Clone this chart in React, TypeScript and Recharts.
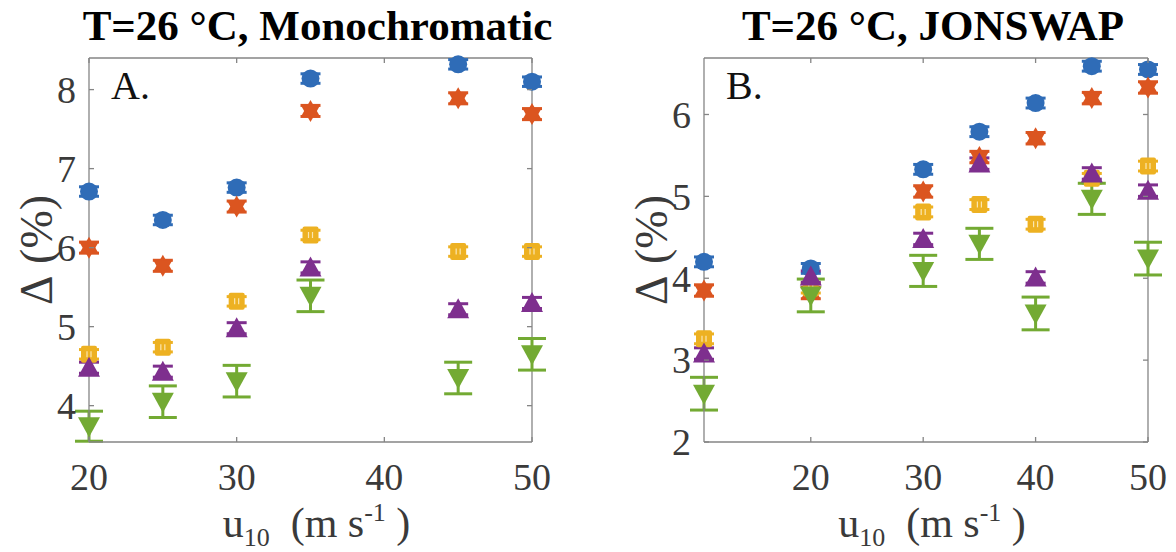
import { ScatterChart, Scatter, XAxis, YAxis, ErrorBar, ReferenceLine } from "recharts";

// panel A: monochromatic
const uA = [20, 25, 30, 35, 45, 50];
const blueA = [6.71, 6.35, 6.76, 8.14, 8.32, 8.1];
const orangeA = [6.0, 5.77, 6.52, 7.73, 7.89, 7.69];
const yellowA = [4.65, 4.74, 5.32, 6.16, 5.95, 5.95];
const purpleA = [4.48, 4.43, 4.98, 5.75, 5.22, 5.3];
const greenA = [3.74, 4.05, 4.31, 5.39, 4.35, 4.65];
const blueErrA = [0.06, 0.06, 0.06, 0.06, 0.06, 0.06];
const orangeErrA = [0.07, 0.07, 0.07, 0.07, 0.07, 0.07];
const yellowErrA = [0.06, 0.06, 0.06, 0.06, 0.06, 0.06];
const purpleErrA = [0.07, 0.07, 0.07, 0.07, 0.07, 0.07];
const greenErrA = [0.19, 0.2, 0.2, 0.2, 0.2, 0.2];

// panel B: JONSWAP
const uB = [10.5, 20, 30, 35, 40, 45, 50];
const blueB = [4.2, 4.12, 5.33, 5.79, 6.14, 6.59, 6.55];
const orangeB = [3.85, 3.82, 5.06, 5.48, 5.71, 6.2, 6.33];
const yellowB = [3.26, 3.88, 4.81, 4.9, 4.66, 5.22, 5.37];
const purpleB = [3.08, 4.02, 4.48, 5.4, 4.01, 5.28, 5.07];
const greenB = [2.59, 3.79, 4.09, 4.42, 3.57, 4.97, 4.24];
const blueErrB = [0.06, 0.06, 0.06, 0.06, 0.06, 0.06, 0.06];
const orangeErrB = [0.07, 0.07, 0.07, 0.07, 0.07, 0.07, 0.07];
const yellowErrB = [0.06, 0.06, 0.06, 0.06, 0.06, 0.06, 0.06];
const purpleErrB = [0.07, 0.07, 0.07, 0.07, 0.07, 0.07, 0.07];
const greenErrB = [0.2, 0.2, 0.19, 0.19, 0.2, 0.19, 0.2];

const xTicks = [20, 30, 40, 50];
const yTicksA = [4, 5, 6, 7, 8];
const yTicksB = [2, 3, 4, 5, 6];

const SERIF = "Liberation Serif";
const AXIS = "#858585";
const TXT = "#3a3a3a";
const COLORS = {
  blue: "#2F6CB7",
  orange: "#DB5520",
  yellow: "#EDB122",
  purple: "#7E2F8E",
  green: "#73AA33",
};

const CH = 552;
const TOP = 58;
const XAXIS_H = 110;
const PLOT_H = CH - TOP - XAXIS_H;

type Pt = { x: number; y: number; err: number };
const pts = (u: number[], ys: number[], errs: number[]): Pt[] => u.map((x, i) => ({ x, y: ys[i], err: errs[i] }));

const Circle = ({ cx, cy }: any) => <circle cx={cx} cy={cy} r={9} fill={COLORS.blue} />;

const Hexagram = ({ cx, cy }: any) => {
  const r = 11;
  const h = r * 0.866;
  const up = `${cx},${cy - r} ${cx + h},${cy + r / 2} ${cx - h},${cy + r / 2}`;
  const dn = `${cx},${cy + r} ${cx + h},${cy - r / 2} ${cx - h},${cy - r / 2}`;
  return (
    <g fill={COLORS.orange}>
      <polygon points={up} />
      <polygon points={dn} />
    </g>
  );
};

const Square = ({ cx, cy }: any) => (
  <g>
    <rect x={cx - 8} y={cy - 8.5} width={16} height={17} rx={2} fill={COLORS.yellow} />
    <line x1={cx - 2} x2={cx - 2} y1={cy - 3} y2={cy + 3} stroke="#fbe6b0" strokeWidth={1.2} />
    <line x1={cx + 2} x2={cx + 2} y1={cy - 3} y2={cy + 3} stroke="#fbe6b0" strokeWidth={1.2} />
  </g>
);

const TriUp = ({ cx, cy }: any) => (
  <polygon points={`${cx},${cy - 11} ${cx + 11},${cy + 9} ${cx - 11},${cy + 9}`} fill={COLORS.purple} />
);

const TriDown = ({ cx, cy }: any) => (
  <polygon points={`${cx - 11},${cy - 9} ${cx + 11},${cy - 9} ${cx},${cy + 11}`} fill={COLORS.green} />
);

interface PanelProps {
  left: number;
  width: number;
  yAxisW: number;
  marginRight: number;
  title: string;
  letter: string;
  xDomain: [number, number];
  yDomain: [number, number];
  yTicks: number[];
  series: { key: string; data: Pt[]; color: string; shape: any; cap: number }[];
}

function Panel({ left, width, yAxisW, marginRight, title, letter, xDomain, yDomain, yTicks, series }: PanelProps) {
  const plotW = width - yAxisW - marginRight;
  const xTick = ({ x, y, payload }: any) => (
    <g>
      <line x1={x} x2={x} y1={y} y2={y - 5} stroke={AXIS} strokeWidth={1.3} />
      <line x1={x} x2={x} y1={y - PLOT_H} y2={y - PLOT_H + 5} stroke={AXIS} strokeWidth={1.3} />
      <text x={x} y={y + 48} textAnchor="middle" fontSize={38} fill={TXT} fontFamily={SERIF}>
        {payload.value}
      </text>
    </g>
  );
  const yTick = ({ x, y, payload }: any) => (
    <g>
      <line x1={x} x2={x + 5} y1={y} y2={y} stroke={AXIS} strokeWidth={1.3} />
      <line x1={x + plotW} x2={x + plotW - 5} y1={y} y2={y} stroke={AXIS} strokeWidth={1.3} />
      <text x={x - 13} y={y} dy="0.35em" textAnchor="end" fontSize={38} fill={TXT} fontFamily={SERIF}>
        {payload.value}
      </text>
    </g>
  );
  const cx = yAxisW + plotW / 2 + 6;
  const xLabel = () => (
    <text x={cx} y={537} textAnchor="middle" fontSize={42} fill={TXT} fontFamily={SERIF}>
      u
      <tspan fontSize={26} dy={9}>10</tspan>
      <tspan dy={-9}>{"\u00a0\u00a0(m s"}</tspan>
      <tspan fontSize={26} dy={-16}>-1</tspan>
      <tspan dy={16}>{"\u00a0)"}</tspan>
    </text>
  );
  const ly = TOP + PLOT_H / 2;
  const lx = yAxisW - 53;
  const yLabel = () => (
    <text
      x={lx}
      y={ly}
      transform={`rotate(-90, ${lx}, ${ly})`}
      textAnchor="middle"
      dominantBaseline="central"
      fontSize={46}
      fill={TXT}
      fontFamily={SERIF}
    >
      {"\u0394\u00a0(%)"}
    </text>
  );

  return (
    <div style={{ position: "absolute", left, top: 0, width, height: CH }}>
      <ScatterChart
        width={width}
        height={CH}
        margin={{ top: TOP, right: marginRight, bottom: 0, left: 0 }}
        style={{ overflow: "visible" }}
      >
        <XAxis
          type="number"
          dataKey="x"
          domain={xDomain}
          ticks={xTicks}
          tick={xTick}
          tickSize={0}
          tickMargin={0}
          height={XAXIS_H}
          axisLine={{ stroke: AXIS, strokeWidth: 1.3 }}
          tickLine={false}
          label={{ content: xLabel }}
        />
        <YAxis
          type="number"
          dataKey="y"
          domain={yDomain}
          ticks={yTicks}
          tick={yTick}
          tickSize={0}
          tickMargin={0}
          width={yAxisW}
          axisLine={{ stroke: AXIS, strokeWidth: 1.3 }}
          tickLine={false}
          label={{ content: yLabel }}
        />
        <ReferenceLine y={yDomain[1]} stroke={AXIS} strokeWidth={1.3} />
        <ReferenceLine x={xDomain[1]} stroke={AXIS} strokeWidth={1.3} />
        {series.map((s) => (
          <Scatter key={s.key} data={s.data} fill={s.color} shape={s.shape} isAnimationActive={false}>
            <ErrorBar dataKey="err" direction="y" width={s.cap} stroke={s.color} strokeWidth={3} />
          </Scatter>
        ))}
      </ScatterChart>
      <div
        style={{
          position: "absolute",
          left: yAxisW + plotW / 2 + 7 - 300,
          width: 600,
          top: 2,
          textAlign: "center",
          fontFamily: SERIF,
          fontWeight: "bold",
          fontSize: 43,
          lineHeight: "48px",
          color: "#000",
          whiteSpace: "nowrap",
        }}
      >
        {title}
      </div>
      <div
        style={{
          position: "absolute",
          left: yAxisW + 22,
          top: 62,
          fontFamily: SERIF,
          fontSize: 40,
          lineHeight: "48px",
          color: "#111",
        }}
      >
        {letter}
      </div>
    </div>
  );
}

export default function App() {
  const seriesA = [
    { key: "blue", data: pts(uA, blueA, blueErrA), color: COLORS.blue, shape: Circle, cap: 10 },
    { key: "orange", data: pts(uA, orangeA, orangeErrA), color: COLORS.orange, shape: Hexagram, cap: 10 },
    { key: "yellow", data: pts(uA, yellowA, yellowErrA), color: COLORS.yellow, shape: Square, cap: 10 },
    { key: "purple", data: pts(uA, purpleA, purpleErrA), color: COLORS.purple, shape: TriUp, cap: 10 },
    { key: "green", data: pts(uA, greenA, greenErrA), color: COLORS.green, shape: TriDown, cap: 14 },
  ];
  const seriesB = [
    { key: "blue", data: pts(uB, blueB, blueErrB), color: COLORS.blue, shape: Circle, cap: 10 },
    { key: "orange", data: pts(uB, orangeB, orangeErrB), color: COLORS.orange, shape: Hexagram, cap: 10 },
    { key: "yellow", data: pts(uB, yellowB, yellowErrB), color: COLORS.yellow, shape: Square, cap: 10 },
    { key: "purple", data: pts(uB, purpleB, purpleErrB), color: COLORS.purple, shape: TriUp, cap: 10 },
    { key: "green", data: pts(uB, greenB, greenErrB), color: COLORS.green, shape: TriDown, cap: 14 },
  ];
  return (
    <div style={{ position: "absolute", left: 0, top: 0, width: 1176, height: 552, background: "#fff", overflow: "hidden" }}>
      <Panel
        left={0}
        width={588}
        yAxisW={89}
        marginRight={56}
        title="T=26 °C, Monochromatic"
        letter="A."
        xDomain={[20, 50]}
        yDomain={[3.54, 8.4]}
        yTicks={yTicksA}
        series={seriesA}
      />
      <Panel
        left={588}
        width={588}
        yAxisW={116}
        marginRight={28}
        title="T=26 °C, JONSWAP"
        letter="B."
        xDomain={[10.5, 50]}
        yDomain={[2, 6.69]}
        yTicks={yTicksB}
        series={seriesB}
      />
    </div>
  );
}
